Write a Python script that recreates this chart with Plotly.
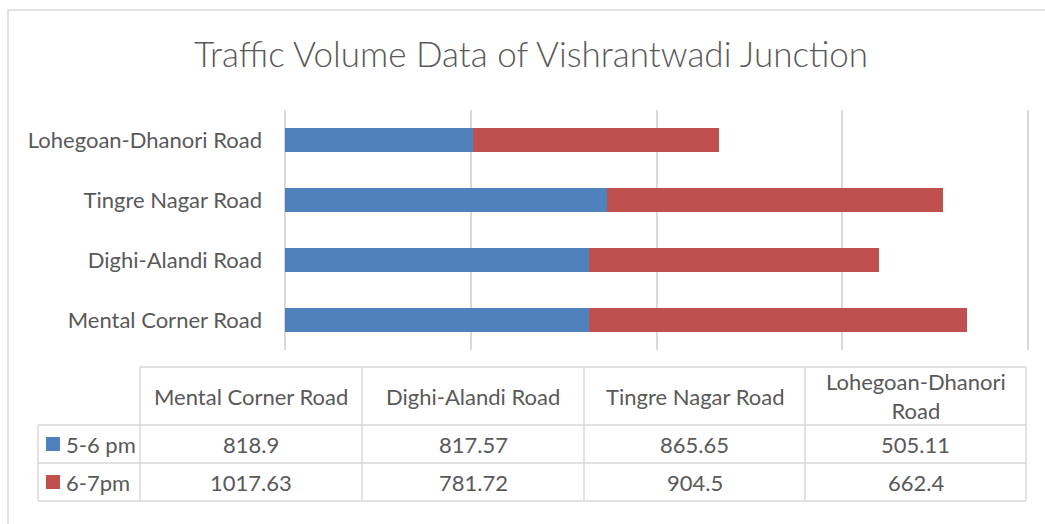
import plotly.graph_objects as go

# ---- data ----
roads = ["Mental Corner Road", "Dighi-Alandi Road", "Tingre Nagar Road", "Lohegoan-Dhanori Road"]
header_labels = ["Mental Corner Road", "Dighi-Alandi Road", "Tingre Nagar Road", "Lohegoan-Dhanori<br>Road"]
series_names = ["5-6 pm", "6-7pm"]
vol_5_6 = [818.9, 817.57, 865.65, 505.11]
vol_6_7 = [1017.63, 781.72, 904.5, 662.4]
vol_5_6_text = ["818.9", "817.57", "865.65", "505.11"]
vol_6_7_text = ["1017.63", "781.72", "904.5", "662.4"]
colors = ["#4F81BD", "#C0504D"]

W, H = 1045, 524
FONT = "Lato, Carlito, Calibri, sans-serif"
TXT = "#595959"
GRID = "#D9D9D9"
FS = 22
X_MAX = 2010  # axis reaches slightly past 2000 so the 2000 gridline is drawn


def px_x(p):
    return p / W


def px_y(p):
    return 1 - p / H


fig = go.Figure()
for name, vals, col in zip(series_names, [vol_5_6, vol_6_7], colors):
    fig.add_trace(go.Bar(
        y=roads, x=vals, name=name, orientation="h",
        marker=dict(color=col, line=dict(width=0)),
        showlegend=False, width=0.4,
    ))

# ---- data table (layout geometry in pixels) ----
col_edges = [140, 362, 584, 805, 1026]
key_left = 38
row_edges = [367, 425, 463, 501]

shapes = []
annotations = []


def hline(y, x0, x1):
    shapes.append(dict(type="line", xref="paper", yref="paper",
                       x0=px_x(x0), x1=px_x(x1), y0=px_y(y), y1=px_y(y),
                       line=dict(color=GRID, width=1.5)))


def vline(x, y0, y1):
    shapes.append(dict(type="line", xref="paper", yref="paper",
                       x0=px_x(x), x1=px_x(x), y0=px_y(y0), y1=px_y(y1),
                       line=dict(color=GRID, width=1.5)))


hline(row_edges[0], col_edges[0], col_edges[-1])
for y in row_edges[1:]:
    hline(y, key_left, col_edges[-1])
vline(key_left, row_edges[1], row_edges[-1])
for x in col_edges:
    vline(x, row_edges[0], row_edges[-1])

# header texts
for i, lab in enumerate(header_labels):
    cx = (col_edges[i] + col_edges[i + 1]) / 2
    cy = (row_edges[0] + row_edges[1]) / 2
    annotations.append(dict(xref="paper", yref="paper", x=px_x(cx), y=px_y(cy),
                            text=lab, showarrow=False, xanchor="center", yanchor="middle",
                            align="center", font=dict(family=FONT, size=FS, color=TXT)))

# body rows
for r, (name, col, vals) in enumerate(zip(series_names, colors, [vol_5_6_text, vol_6_7_text])):
    top, bot = row_edges[r + 1], row_edges[r + 2]
    cy = (top + bot) / 2
    shapes.append(dict(type="rect", xref="paper", yref="paper",
                       x0=px_x(46), x1=px_x(60), y0=px_y(cy + 7), y1=px_y(cy - 7),
                       fillcolor=col, line=dict(width=0)))
    annotations.append(dict(xref="paper", yref="paper", x=px_x(64), y=px_y(cy),
                            text=name, showarrow=False, xanchor="left", yanchor="middle",
                            font=dict(family=FONT, size=FS, color=TXT)))
    for i, v in enumerate(vals):
        cx = (col_edges[i] + col_edges[i + 1]) / 2
        annotations.append(dict(xref="paper", yref="paper", x=px_x(cx), y=px_y(cy),
                                text=v, showarrow=False, xanchor="center", yanchor="middle",
                                font=dict(family=FONT, size=FS, color=TXT)))

# chart-area border
shapes.append(dict(type="rect", xref="paper", yref="paper",
                   x0=px_x(8), x1=px_x(1060), y0=px_y(540), y1=px_y(10),
                   line=dict(color=GRID, width=1.5), fillcolor="rgba(0,0,0,0)"))

plot_left, plot_right_2000 = 285, 1028
plot_right = plot_left + (plot_right_2000 - plot_left) * X_MAX / 2000

fig.update_layout(
    width=W, height=H,
    margin=dict(l=0, r=0, t=0, b=0),
    paper_bgcolor="white", plot_bgcolor="white",
    barmode="stack",
    font=dict(family=FONT, color=TXT, size=FS),
    title=dict(
        text="Traffic Volume Data of Vishrantwadi Junction",
        x=px_x(531), xanchor="center", y=px_y(55), yanchor="middle",
        font=dict(family=FONT, size=35, color=TXT, weight=300),
    ),
    xaxis=dict(
        domain=[px_x(plot_left), px_x(plot_right)], range=[0, X_MAX], dtick=500,
        showgrid=True, gridcolor=GRID, gridwidth=1.5,
        zeroline=True, zerolinecolor=GRID, zerolinewidth=1.5,
        showticklabels=False, showline=False, ticks="", fixedrange=True,
    ),
    yaxis=dict(
        domain=[px_y(350), px_y(110)], showgrid=False, zeroline=False,
        ticks="", ticklabelstandoff=22, showline=False,
        tickfont=dict(family=FONT, size=FS, color=TXT), fixedrange=True,
    ),
    shapes=shapes,
    annotations=annotations,
)

fig.write_html("out.html", config={"displayModeBar": False},
               post_script="document.body.style.margin='0';")
